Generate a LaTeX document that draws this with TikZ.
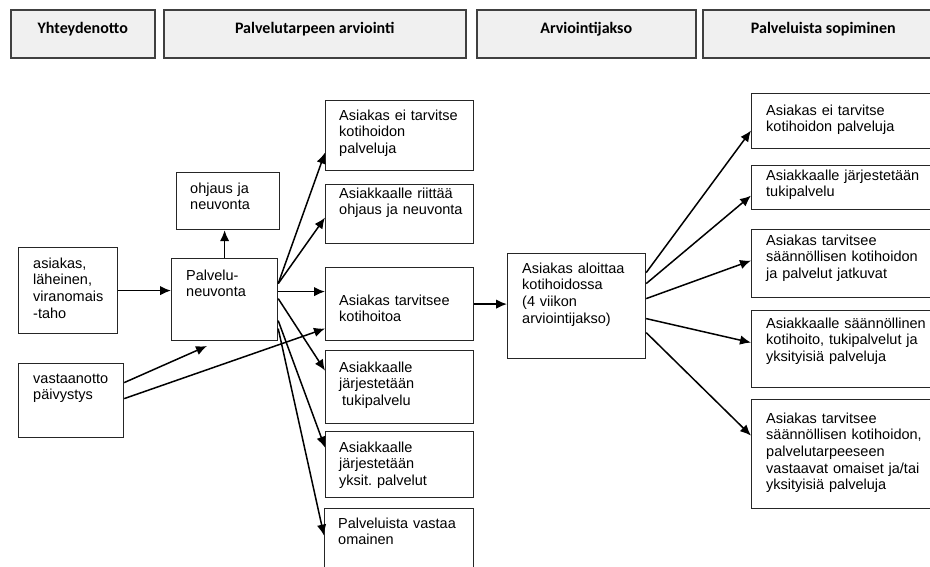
\documentclass[tikz,border=0pt]{standalone}
\usepackage{fontspec}
\setmainfont{Liberation Sans}
\newfontfamily\hdfont{Carlito}
\usetikzlibrary{arrows.meta}
\frenchspacing

\begin{document}
\begin{tikzpicture}[x=1pt,y=-1pt,>={Latex[length=11pt,width=9.5pt]},
    head/.style={draw=black!75,line width=1.5pt,fill=black!6,anchor=north west,inner sep=0pt,
      font=\hdfont\bfseries\fontsize{16}{19}\selectfont,text height=11.5pt,text depth=13pt},
    box/.style={draw=black!85,line width=1.2pt,anchor=north west,inner sep=0pt},
    txt/.style={anchor=base west,inner sep=0pt,text width=175pt,align=left,
      font=\fontsize{14.5}{16.7}\selectfont},
    arr/.style={->,line width=1.5pt}]
\useasboundingbox (0,0) rectangle (930,566);
\clip (0,0) rectangle (930,566);
% phases
\node[head,minimum width=144pt,minimum height=48pt] (yht) at (10,9) {Yhteydenotto};
\node[head,minimum width=302pt,minimum height=48pt] (arv) at (163,9) {Palvelutarpeen arviointi};
\node[head,minimum width=219pt,minimum height=48pt] (jakso) at (476,9) {Arviointijakso};
\node[head,minimum width=241pt,minimum height=48pt] (sop) at (702,9) {Palveluista sopiminen};
% contact
\node[box,minimum width=99pt,minimum height=86pt] (ask) at (18,247) {};
\node[txt] (ask-t) at ([xshift=15pt,yshift=-21pt]ask.north west) {asiakas,\\läheinen,\\viranomais\\-taho};
\node[box,minimum width=105pt,minimum height=74pt] (vast) at (18,363) {};
\node[txt] (vast-t) at ([xshift=15pt,yshift=-20pt]vast.north west) {vastaanotto\\päivystys};
\node[box,minimum width=106pt,minimum height=82pt] (neuv) at (171,258) {};
\node[txt] (neuv-t) at ([xshift=15pt,yshift=-22pt]neuv.north west) {Palvelu-\\neuvonta};
\node[box,minimum width=103pt,minimum height=57pt] (ohj) at (176,172) {};
\node[txt] (ohj-t) at ([xshift=14pt,yshift=-21pt]ohj.north west) {ohjaus ja\\neuvonta};
% assessment outcomes
\node[box,minimum width=148pt,minimum height=70pt] (b1) at (325,100) {};
\node[txt] (b1-t) at ([xshift=14pt,yshift=-20pt]b1.north west) {Asiakas ei tarvitse\\kotihoidon\\palveluja};
\node[box,minimum width=148pt,minimum height=59pt] (b2) at (325,184) {};
\node[txt] (b2-t) at ([xshift=14pt,yshift=-14pt]b2.north west) {Asiakkaalle riittää\\ohjaus ja neuvonta};
\node[box,minimum width=148pt,minimum height=73pt] (b3) at (325,267) {};
\node[txt] (b3-t) at ([xshift=14pt,yshift=-38pt]b3.north west) {Asiakas tarvitsee\\kotihoitoa};
\node[box,minimum width=148pt,minimum height=73pt] (b4) at (325,350) {};
\node[txt] (b4-t) at ([xshift=14pt,yshift=-22pt]b4.north west) {Asiakkaalle\\järjestetään\\\hspace{3pt}tukipalvelu};
\node[box,minimum width=148pt,minimum height=66pt] (b5) at (325,431) {};
\node[txt] (b5-t) at ([xshift=14pt,yshift=-21pt]b5.north west) {Asiakkaalle\\järjestetään\\yksit. palvelut};
\node[box,minimum width=149pt,minimum height=92pt] (b6) at (324,508) {};
\node[txt] (b6-t) at ([xshift=14pt,yshift=-20pt]b6.north west) {Palveluista vastaa\\omainen};
% trial period
\node[box,minimum width=138pt,minimum height=105pt] (arvio) at (507,253) {};
\node[txt] (arvio-t) at ([xshift=15pt,yshift=-20pt]arvio.north west) {Asiakas aloittaa\\kotihoidossa\\(4 viikon\\arviointijakso)};
% agreements
\node[box,minimum width=210pt,minimum height=55pt] (r1) at (751,93) {};
\node[txt] (r1-t) at ([xshift=15pt,yshift=-22pt]r1.north west) {Asiakas ei tarvitse\\kotihoidon palveluja};
\node[box,minimum width=210pt,minimum height=44pt] (r2) at (751,165) {};
\node[txt] (r2-t) at ([xshift=15pt,yshift=-15pt]r2.north west) {Asiakkaalle järjestetään\\tukipalvelu};
\node[box,minimum width=210pt,minimum height=68pt] (r3) at (751,229) {};
\node[txt] (r3-t) at ([xshift=15pt,yshift=-16pt]r3.north west) {Asiakas tarvitsee\\säännöllisen kotihoidon\\ja palvelut jatkuvat};
\node[box,minimum width=210pt,minimum height=77pt] (r4) at (751,310) {};
\node[txt] (r4-t) at ([xshift=15pt,yshift=-18pt]r4.north west) {Asiakkaalle säännöllinen\\kotihoito, tukipalvelut ja\\yksityisiä palveluja};
\node[box,minimum width=210pt,minimum height=109pt] (r5) at (751,399) {};
\node[txt] (r5-t) at ([xshift=15pt,yshift=-24pt]r5.north west) {Asiakas tarvitsee\\säännöllisen kotihoidon,\\palvelutarpeeseen\\vastaavat omaiset ja/tai\\yksityisiä palveluja};
\coordinate (vtip) at (207,346);
% arrows
\draw[arr] (ask.east) -- (ask.east -| neuv.west);
\draw[arr] (neuv.north) -- (neuv.north |- ohj.south);
\draw[arr] ([yshift=18pt]vast.east) -- (vtip);
\draw[arr] ([yshift=2pt]vast.east) -- ([yshift=-24.5pt]b3.west);
\draw[arr] ([yshift=16pt]neuv.east) -- ([yshift=-17pt]b1.west);
\draw[arr] ([yshift=16pt]neuv.east) -- ([yshift=-3.5pt]b2.west);
\draw[arr] ([yshift=8pt]neuv.east) -- ([yshift=12.5pt]b3.west);
\draw[arr] ([yshift=1pt]neuv.east) -- ([yshift=16.5pt]b4.west);
\draw[arr] ([yshift=-21pt]neuv.east) -- ([yshift=17pt]b5.west);
\draw[arr] ([yshift=-29pt]neuv.east) -- ([yshift=19pt]b6.west);
\draw[arr] (b3.east) -- (b3.east -| arvio.west);
\draw[arr] ([yshift=33.5pt]arvio.east) -- ([yshift=-9.5pt]r1.west);
\draw[arr] ([yshift=22.5pt]arvio.east) -- ([yshift=-8pt]r2.west);
\draw[arr] ([yshift=7.5pt]arvio.east) -- ([yshift=3pt]r3.west);
\draw[arr] ([yshift=-12.5pt]arvio.east) -- ([yshift=6.5pt]r4.west);
\draw[arr] ([yshift=-26.5pt]arvio.east) -- ([yshift=18.5pt]r5.west);
\end{tikzpicture}
\end{document}
